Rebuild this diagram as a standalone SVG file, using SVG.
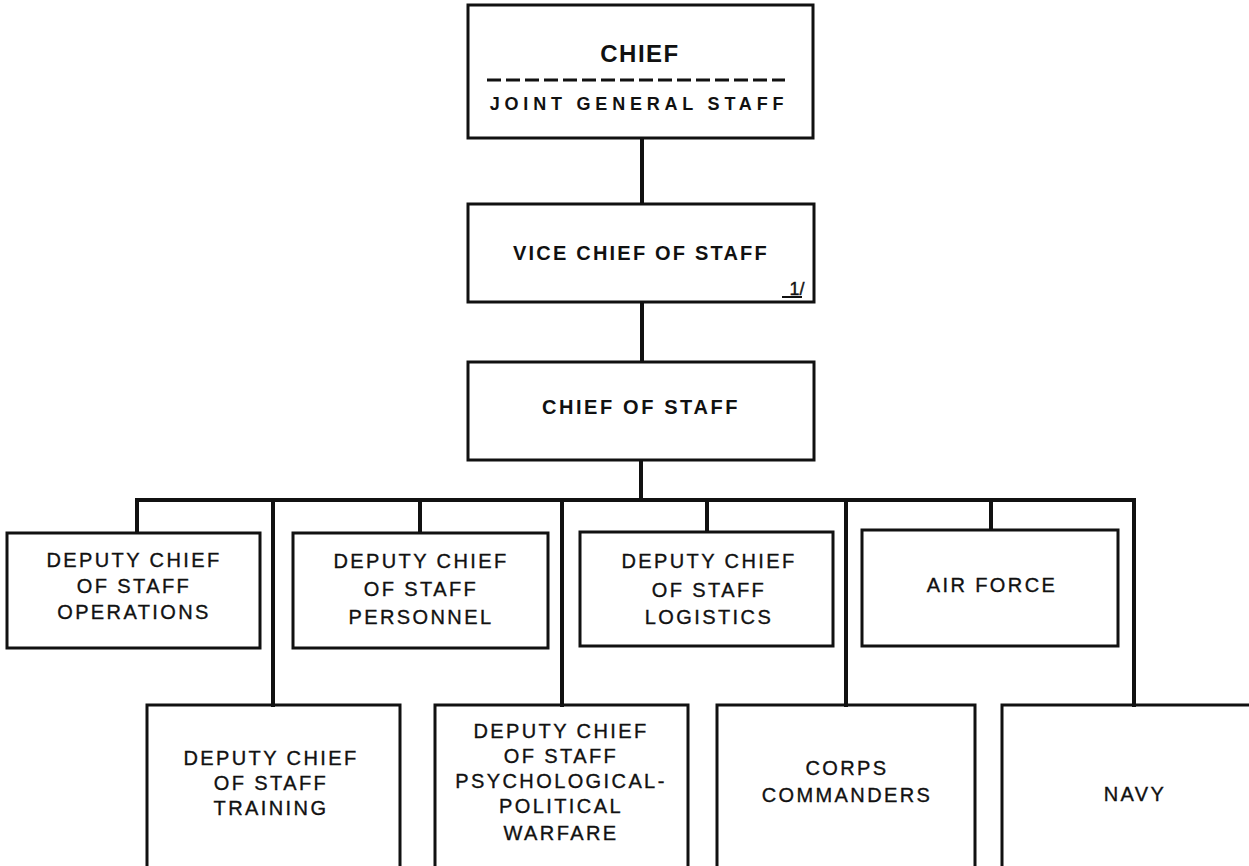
<svg xmlns="http://www.w3.org/2000/svg" width="1249" height="866" viewBox="0 0 1249 866">
<style>
  .box { fill: #fff; stroke: #111; stroke-width: 3; }
  .open { fill: none; stroke: #111; stroke-width: 3; }
  .conn { fill: none; stroke: #111; stroke-width: 4; stroke-linecap: square; }
  text { font-family: "Liberation Sans", Arial, sans-serif; fill: #111; text-anchor: middle; }
  .t { font-size: 20px; letter-spacing: 2.4px; stroke: #111; stroke-width: 0.35px; }
  .tb { font-size: 20px; font-weight: bold; letter-spacing: 2.3px; }
</style>
<rect width="1249" height="866" fill="#fff"/>
<g id="connectors">
  <line class="conn" x1="642" y1="138" x2="642" y2="204"/>
  <line class="conn" x1="642" y1="302" x2="642" y2="362"/>
  <line class="conn" x1="641" y1="460" x2="641" y2="500"/>
  <line class="conn" x1="137" y1="500" x2="1134" y2="500"/>
  <line class="conn" x1="137" y1="500" x2="137" y2="533"/>
  <line class="conn" x1="273" y1="500" x2="273" y2="705"/>
  <line class="conn" x1="420" y1="500" x2="420" y2="533"/>
  <line class="conn" x1="562" y1="500" x2="562" y2="705"/>
  <line class="conn" x1="707" y1="500" x2="707" y2="532"/>
  <line class="conn" x1="846" y1="500" x2="846" y2="705"/>
  <line class="conn" x1="991" y1="500" x2="991" y2="530"/>
  <line class="conn" x1="1134" y1="500" x2="1134" y2="705"/>
</g>
<g id="chief">
  <rect class="box" x="468" y="5" width="345" height="133"/>
  <text x="640" y="62" style="font-size:24px;font-weight:bold;letter-spacing:1.5px">CHIEF</text>
  <line x1="487" y1="80" x2="785" y2="80" stroke="#111" stroke-width="3" stroke-dasharray="14 5"/>
  <text x="639" y="110" style="font-size:18px;font-weight:bold;letter-spacing:4.8px">JOINT GENERAL STAFF</text>
</g>
<g id="vice-chief">
  <rect class="box" x="468" y="204" width="346" height="98"/>
  <text class="tb" x="641" y="260" style="letter-spacing:2.2px">VICE CHIEF OF STAFF</text>
  <text x="797" y="295" style="font-size:18px;letter-spacing:0;stroke:#111;stroke-width:0.4px">1/</text>
  <line x1="782" y1="297" x2="802" y2="297" stroke="#111" stroke-width="2"/>
</g>
<g id="chief-of-staff">
  <rect class="box" x="468" y="362" width="346" height="98"/>
  <text class="tb" x="641" y="414" style="letter-spacing:2.6px">CHIEF OF STAFF</text>
</g>
<g id="dcs-operations">
  <rect class="box" x="7" y="533" width="253" height="115"/>
  <text class="t" x="134" y="567">DEPUTY CHIEF</text>
  <text class="t" x="134" y="593">OF STAFF</text>
  <text class="t" x="134" y="619">OPERATIONS</text>
</g>
<g id="dcs-personnel">
  <rect class="box" x="293" y="533" width="255" height="115"/>
  <text class="t" x="421" y="568">DEPUTY CHIEF</text>
  <text class="t" x="421" y="596">OF STAFF</text>
  <text class="t" x="421" y="624">PERSONNEL</text>
</g>
<g id="dcs-logistics">
  <rect class="box" x="580" y="532" width="253" height="114"/>
  <text class="t" x="709" y="568">DEPUTY CHIEF</text>
  <text class="t" x="709" y="597">OF STAFF</text>
  <text class="t" x="709" y="624">LOGISTICS</text>
</g>
<g id="air-force">
  <rect class="box" x="862" y="530" width="256" height="116"/>
  <text class="t" x="992" y="592">AIR FORCE</text>
</g>
<g id="dcs-training">
  <path class="open" d="M147,866 V705 H400 V866"/>
  <text class="t" x="271" y="765">DEPUTY CHIEF</text>
  <text class="t" x="271" y="790">OF STAFF</text>
  <text class="t" x="271" y="815">TRAINING</text>
</g>
<g id="dcs-psychological-political-warfare">
  <path class="open" d="M435,866 V705 H688 V866"/>
  <text class="t" x="561" y="738">DEPUTY CHIEF</text>
  <text class="t" x="561" y="763">OF STAFF</text>
  <text class="t" x="561" y="788">PSYCHOLOGICAL-</text>
  <text class="t" x="561" y="813">POLITICAL</text>
  <text class="t" x="561" y="840">WARFARE</text>
</g>
<g id="corps-commanders">
  <path class="open" d="M717,866 V705 H975 V866"/>
  <text class="t" x="847" y="775">CORPS</text>
  <text class="t" x="847" y="802">COMMANDERS</text>
</g>
<g id="navy">
  <path class="open" d="M1002,866 V705 H1252"/>
  <text class="t" x="1135" y="801">NAVY</text>
</g>
</svg>
